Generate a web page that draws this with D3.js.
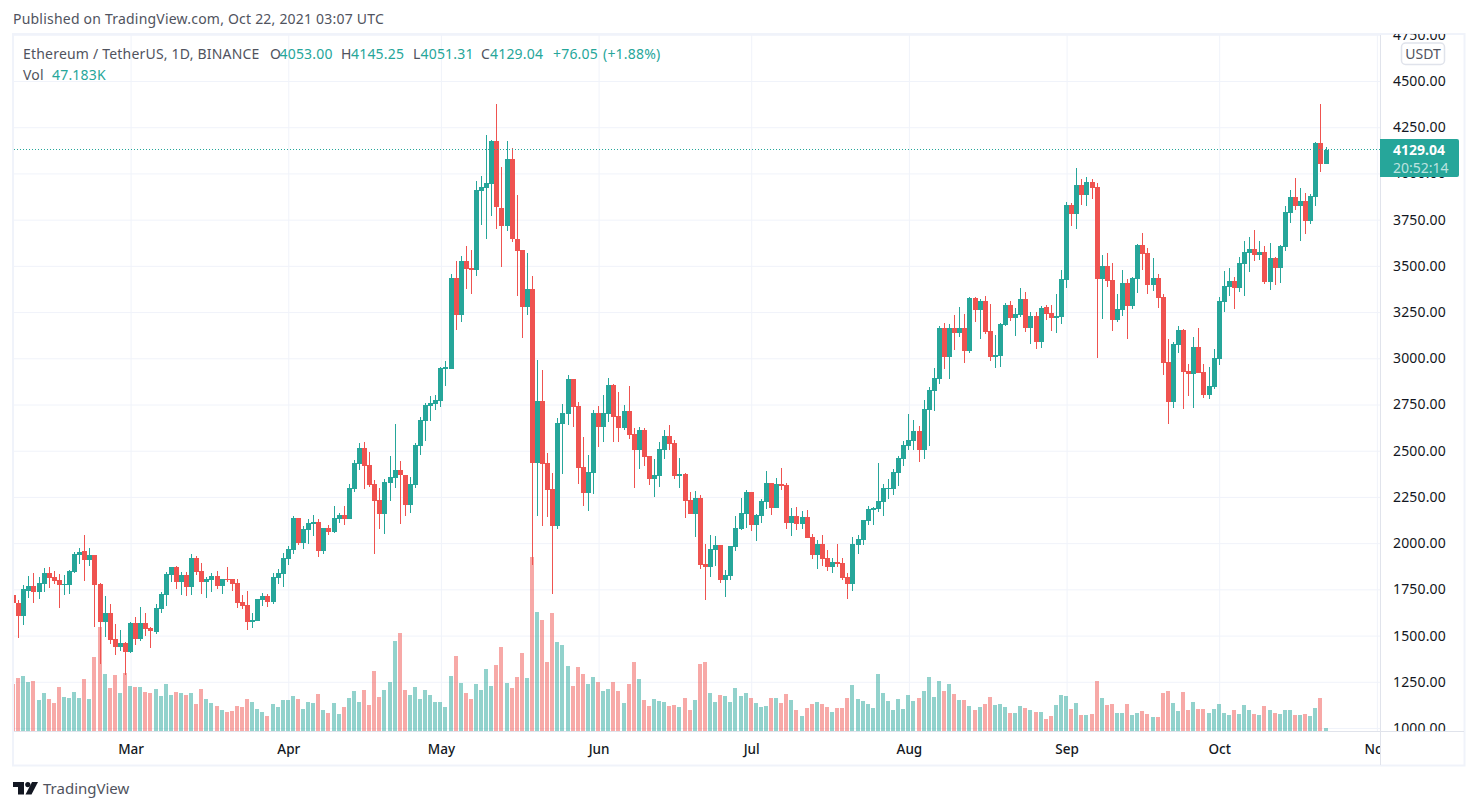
<!DOCTYPE html>
<html>
<head>
<meta charset="utf-8">
<script src="https://cdn.jsdelivr.net/npm/d3@7"></script>
<style>
  body { margin: 0; background: #fff; }
  text { font-family: "Noto Sans", sans-serif; }
</style>
</head>
<body>
<div id="chart"></div>
<script>
// daily ETH/USDT candles, Feb 6 - Oct 22 2021
var opens = [
  1719,1676,1607,1741,1768,1735,1779,1838,1817,1800,
  1775,1775,1844,1937,1957,1909,1936,1779,1573,1622,
  1481,1438,1460,1411,1568,1481,1568,1541,1519,1644,
  1719,1829,1871,1790,1827,1762,1919,1849,1790,1800,
  1822,1768,1806,1806,1784,1681,1665,1573,1579,1692,
  1714,1681,1811,1833,1914,1963,2136,2000,2071,2103,
  2114,1957,2082,2060,2130,2152,2130,2292,2428,2514,
  2422,2320,2233,2157,2325,2352,2395,2368,2206,2314,
  2525,2660,2741,2754,2768,2943,2941,3434,3233,3525,
  3488,3477,3904,3920,3942,4175,3812,3715,4077,3644,
  3585,3277,3374,2433,2768,2433,2293,2092,2644,2698,
  2887,2741,2411,2271,2379,2703,2628,2698,2855,2687,
  2622,2714,2590,2503,2611,2471,2346,2363,2503,2579,
  2541,2363,2373,2233,2157,2244,1887,1871,1962,1989,
  1800,1822,1979,2076,2157,2276,2098,2146,2222,2325,
  2190,2319,2314,2108,2146,2103,2141,2033,1935,1995,
  1919,1871,1898,1892,1816,1779,1990,2017,2120,2179,
  2184,2222,2293,2293,2379,2455,2525,2552,2606,2503,
  2720,2823,2887,3163,3006,3163,3136,3163,3039,3325,
  3261,3309,3147,3006,3012,3179,3288,3217,3234,3320,
  3163,3228,3088,3277,3244,3217,3223,3423,3828,3780,
  3937,3882,3953,3926,3428,3498,3423,3206,3260,3406,
  3282,3428,3612,3569,3396,3434,3331,2979,2763,3071,
  3152,2931,2914,3060,2925,2801,2844,2995,3304,3385,
  3417,3379,3509,3569,3590,3558,3574,3412,3542,3488,
  3601,3785,3872,3823,3850,3742,3872,4164,4053
];
var highs = [
  1741,1692,1773,1822,1838,1817,1865,1871,1849,1833,
  1827,1854,1952,1973,2044,1973,1936,1784,1714,1671,
  1562,1530,1465,1573,1600,1654,1622,1546,1671,1735,
  1844,1871,1876,1844,1844,1941,1930,1892,1817,1838,
  1849,1806,1871,1806,1806,1719,1741,1622,1698,1730,
  1725,1838,1860,1946,1984,2146,2136,2092,2130,2152,
  2130,2082,2098,2201,2163,2201,2320,2449,2541,2547,
  2493,2341,2298,2347,2471,2644,2444,2368,2357,2541,
  2682,2758,2795,2801,2952,2985,3455,3525,3553,3607,
  3585,3958,3985,4207,4180,4375,4034,4175,4137,3882,
  3585,3569,3444,2990,2936,2487,2379,2676,2752,2909,
  2887,2763,2574,2476,2720,2741,2801,2893,2860,2817,
  2747,2849,2622,2628,2622,2471,2455,2547,2611,2638,
  2557,2460,2379,2276,2281,2260,1995,2044,2038,1989,
  1854,1984,2146,2244,2287,2276,2157,2238,2390,2325,
  2352,2406,2325,2190,2195,2173,2179,2049,2017,2044,
  1962,1919,1995,1919,1838,2033,2044,2125,2201,2195,
  2433,2320,2347,2401,2471,2552,2698,2666,2633,2774,
  2844,2947,3174,3190,3185,3233,3277,3239,3331,3331,
  3320,3336,3293,3125,3190,3298,3309,3271,3380,3358,
  3250,3250,3282,3288,3288,3347,3477,3845,3839,4028,
  3969,3980,3969,3947,3558,3569,3515,3347,3477,3428,
  3439,3617,3677,3596,3542,3455,3347,3104,3087,3174,
  3158,2968,3114,3163,2968,2952,3050,3331,3471,3488,
  3439,3547,3634,3655,3693,3634,3607,3623,3547,3612,
  3823,3909,3974,3920,3893,3888,4169,4375,4145.25
];
var lows = [
  1638,1489,1557,1705,1678,1699,1735,1757,1779,1649,
  1719,1725,1841,1887,1795,1876,1546,1346,1492,1454,
  1395,1416,1287,1406,1449,1470,1497,1433,1508,1622,
  1660,1790,1752,1719,1714,1719,1827,1725,1703,1735,
  1752,1725,1790,1741,1649,1644,1530,1541,1579,1660,
  1654,1671,1779,1762,1881,1941,1990,1968,1995,2038,
  1925,1941,2044,2055,2109,2098,2130,2276,2395,2293,
  2303,1941,2076,2049,2228,2298,2103,2146,2163,2298,
  2476,2552,2660,2720,2736,2850,2941,3152,3196,3374,
  3347,3444,3720,3644,3769,3699,3493,3688,3628,3336,
  3109,3233,1881,2146,2092,2141,1725,2076,2374,2639,
  2628,2320,2200,2173,2265,2520,2547,2655,2547,2547,
  2611,2563,2298,2400,2417,2314,2249,2303,2455,2503,
  2346,2298,2135,2157,2033,1860,1692,1816,1876,1784,
  1708,1800,1957,2071,2081,2065,2011,2108,2184,2152,
  2190,2287,2076,2038,2071,2076,2027,1914,1860,1876,
  1849,1838,1871,1800,1697,1741,1941,1990,2098,2098,
  2168,2147,2238,2260,2309,2417,2503,2503,2439,2455,
  2525,2714,2860,2942,2887,3044,3115,2974,3028,3196,
  3104,3131,2985,2947,2952,3174,3201,3120,3223,3142,
  3077,3050,3055,3206,3147,3136,3185,3379,3715,3699,
  3828,3823,3861,3001,3212,3385,3147,3196,3228,3104,
  3266,3352,3477,3347,3363,3271,2909,2644,2730,3028,
  2725,2795,2730,2920,2785,2779,2833,2963,3250,3336,
  3266,3358,3336,3466,3525,3531,3401,3369,3396,3406,
  3580,3731,3801,3634,3671,3726,3823,4007,4051.31
];
var closes = [
  1676,1607,1752,1768,1735,1784,1838,1811,1795,1773,
  1779,1849,1941,1952,1909,1936,1773,1573,1622,1476,
  1438,1460,1411,1568,1481,1568,1535,1524,1649,1725,
  1833,1871,1790,1827,1762,1919,1844,1790,1806,1822,
  1768,1806,1802,1779,1676,1660,1573,1584,1698,1714,
  1681,1817,1838,1919,1968,2136,2000,2076,2109,2114,
  1957,2082,2060,2136,2152,2130,2298,2433,2514,2417,
  2314,2228,2157,2330,2357,2395,2368,2206,2320,2530,
  2666,2747,2758,2774,2947,2952,3434,3233,3525,3482,
  3477,3910,3926,3947,4175,3818,3715,4077,3644,3580,
  3277,3374,2433,2768,2428,2287,2092,2649,2703,2887,
  2736,2406,2271,2384,2703,2628,2703,2855,2682,2622,
  2714,2584,2503,2611,2465,2346,2368,2509,2579,2536,
  2363,2373,2227,2157,2244,1881,1871,1968,1989,1800,
  1827,1984,2081,2163,2276,2098,2152,2227,2325,2190,
  2319,2309,2108,2146,2103,2141,2027,1935,1995,1914,
  1871,1898,1887,1811,1779,1995,2022,2125,2184,2190,
  2228,2298,2296,2385,2460,2530,2558,2606,2503,2725,
  2828,2893,3163,3006,3163,3136,3163,3039,3325,3261,
  3309,3142,3006,3017,3185,3288,3217,3239,3320,3163,
  3228,3088,3271,3239,3217,3228,3428,3828,3780,3937,
  3882,3953,3920,3428,3498,3417,3206,3266,3406,3282,
  3434,3612,3563,3396,3434,3325,2974,2763,3077,3152,
  2925,2914,3060,2920,2801,2850,3001,3309,3390,3417,
  3379,3515,3574,3590,3558,3574,3412,3542,3488,3607,
  3790,3872,3823,3850,3742,3877,4164,4050,4129.04
];
// volume in thousands of ETH
var volumes = [
  846,954,990,882,900,558,684,576,504,792,
  612,594,702,594,936,576,1332,1872,1026,774,
  1008,684,1044,810,792,792,702,684,756,630,
  846,648,702,684,648,684,486,756,576,504,
  450,378,342,360,450,432,576,522,396,342,
  270,486,432,558,558,630,576,396,522,504,
  666,378,324,504,306,432,594,720,522,738,
  468,1080,612,738,882,1620,1764,738,648,792,
  576,738,648,522,522,432,990,1350,864,684,
  576,846,738,1116,810,1188,1512,864,774,972,
  1404,954,3132,2142,1998,1242,2124,1602,1548,1170,
  810,1152,1026,846,972,882,720,756,882,720,
  504,846,1242,936,558,450,576,540,522,450,
  468,432,594,378,558,1206,1242,684,522,648,
  630,522,774,630,684,594,504,432,450,594,
  594,504,666,558,378,270,414,486,522,486,
  432,342,414,414,594,828,576,540,486,414,
  1026,684,540,378,576,396,648,540,594,720,
  972,612,900,720,846,666,558,558,450,378,
  432,486,612,468,486,432,324,324,450,414,
  378,342,342,216,270,468,648,630,396,504,
  288,288,306,900,594,468,486,324,324,486,
  288,324,360,306,252,252,684,720,504,360,
  702,378,522,396,396,324,396,486,324,288,
  378,306,468,378,306,288,450,378,324,306,
  378,378,288,288,306,270,414,594,47.183
];
var priceTicks = [1000,1250,1500,1750,2000,2250,2500,2750,3000,3250,3500,3750,4000,4250,4500,4750];
var monthTicks = ['2021-03-01','2021-04-01','2021-05-01','2021-06-01','2021-07-01','2021-08-01','2021-09-01','2021-10-01','2021-11-01'];
var firstDay = new Date(Date.UTC(2021, 1, 6));
var lastPrice = 4129.04;

var legendParts = [
  ['Ethereum / TetherUS, 1D, BINANCE', 23, 'label'],
  ['O', 270, 'label'], ['4053.00', 279.5, 'up'],
  ['H', 341, 'label'], ['4145.25', 351, 'up'],
  ['L', 413, 'label'], ['4051.31', 420.5, 'up'],
  ['C', 481, 'label'], ['4129.04', 490, 'up'],
  ['+76.05', 553, 'up'], ['(+1.88%)', 603, 'up']
];

var up = '#26a69a', down = '#ef5350', grid = '#f0f3fa', line = '#e0e3eb', ink = '#131722', grey = '#50535e';
var width = 1478, height = 810;
var paneLeft = 14, paneRight = 1380, paneTop = 35, paneBottom = 731;

var svg = d3.select('#chart').append('svg').attr('width', width).attr('height', height).style('display', 'block');
var defs = svg.append('defs');
defs.append('clipPath').attr('id', 'pane').append('rect').attr('x', paneLeft - 1).attr('y', paneTop).attr('width', paneRight - paneLeft + 1).attr('height', paneBottom - paneTop);
defs.append('clipPath').attr('id', 'timeClip').append('rect').attr('x', paneLeft).attr('y', paneBottom).attr('width', paneRight - paneLeft).attr('height', 35);
defs.append('clipPath').attr('id', 'priceClip').append('rect').attr('x', paneRight).attr('y', paneTop - 1).attr('width', 84).attr('height', paneBottom - paneTop + 1);

var days = opens.map((d, i) => d3.utcDay.offset(firstDay, i));
var x = d3.scaleUtc().domain([firstDay, days[days.length - 1]]).range([13.6, 1326]);
var y = d3.scaleLinear().domain([1000, 4500]).range([728, 81]);
var yVol = d3.scaleLinear().domain([0, 3240]).range([paneBottom, paneBottom - 180]);
var months = monthTicks.map(d => new Date(d + 'T00:00:00Z'));
var candleColor = i => closes[i] >= opens[i] ? up : down;
var px = i => Math.floor(x(days[i]));

// grid
var pane = svg.append('g').attr('clip-path', 'url(#pane)');
var gridX = pane.append('g').attr('transform', `translate(0,${paneBottom})`)
  .call(d3.axisBottom(x).tickValues(months).tickSize(paneTop - paneBottom).tickFormat(''));
var gridY = pane.append('g').attr('transform', `translate(${paneLeft},0)`)
  .call(d3.axisRight(y).tickValues(priceTicks).tickSize(paneRight - paneLeft).tickFormat(''));
[gridX, gridY].forEach(g => {
  g.select('.domain').remove();
  g.selectAll('line').attr('stroke', grid);
});

// volume
pane.append('g').selectAll('rect').data(volumes).enter().append('rect')
  .attr('x', (d, i) => px(i) - 2)
  .attr('width', 4)
  .attr('y', d => Math.round(yVol(d)))
  .attr('height', d => paneBottom - Math.round(yVol(d)))
  .attr('fill', (d, i) => candleColor(i))
  .attr('fill-opacity', .5)
  .attr('shape-rendering', 'crispEdges');

// wicks and bodies
var candles = pane.append('g').attr('shape-rendering', 'crispEdges');
candles.selectAll('.wick').data(days).enter().append('rect').attr('class', 'wick')
  .attr('x', (d, i) => px(i))
  .attr('width', 1)
  .attr('y', (d, i) => Math.round(y(highs[i])))
  .attr('height', (d, i) => Math.round(y(lows[i])) - Math.round(y(highs[i])))
  .attr('fill', (d, i) => candleColor(i));
candles.selectAll('.body').data(days).enter().append('rect').attr('class', 'body')
  .attr('x', (d, i) => px(i) - 2)
  .attr('width', 5)
  .attr('y', (d, i) => Math.round(y(Math.max(opens[i], closes[i]))))
  .attr('height', (d, i) => Math.max(1, Math.round(y(Math.min(opens[i], closes[i]))) - Math.round(y(Math.max(opens[i], closes[i])))))
  .attr('fill', (d, i) => candleColor(i));

// last price line
svg.append('line')
  .attr('x1', paneLeft).attr('x2', paneRight)
  .attr('y1', Math.floor(y(lastPrice)) + .5).attr('y2', Math.floor(y(lastPrice)) + .5)
  .attr('stroke', up).attr('stroke-dasharray', '1 2');

// frame
svg.append('rect').attr('x', 13).attr('y', 34).attr('width', 1451.5).attr('height', 731.5)
  .attr('fill', 'none').attr('stroke', grid).attr('stroke-width', 2);
svg.append('line').attr('x1', 14).attr('x2', 1464).attr('y1', paneBottom + .5).attr('y2', paneBottom + .5).attr('stroke', line);
svg.append('line').attr('x1', paneRight + .5).attr('x2', paneRight + .5).attr('y1', 35).attr('y2', 765).attr('stroke', line);

// axes
var priceAxis = svg.append('g').attr('clip-path', 'url(#priceClip)').append('g').attr('transform', `translate(${paneRight},0)`)
  .call(d3.axisRight(y).tickValues(priceTicks).tickSize(0).tickPadding(13).tickFormat(d => d.toFixed(2)));
priceAxis.select('.domain').remove();
priceAxis.selectAll('text').attr('fill', ink).style('font-size', '14px').style('letter-spacing', '.15px').style('font-family', '"Noto Sans", sans-serif');

var timeAxis = svg.append('g').attr('clip-path', 'url(#timeClip)').append('g').attr('transform', `translate(0,${paneBottom})`)
  .call(d3.axisBottom(x).tickValues(months).tickSize(0).tickPadding(13).tickFormat(d3.utcFormat('%b')));
timeAxis.select('.domain').remove();
timeAxis.selectAll('text').attr('fill', ink).style('font-size', '13.5px').style('font-weight', 500).style('font-family', '"Noto Sans", sans-serif');

// last price badge
var badge = svg.append('g');
badge.append('path').attr('d', 'M1380 139H1457a2 2 0 0 1 2 2V175a2 2 0 0 1 -2 2H1380Z').attr('fill', up);
badge.append('text').attr('x', 1393).attr('y', 155).attr('fill', '#fff').style('font-size', '14px').style('font-weight', 700).text(lastPrice.toFixed(2));
badge.append('text').attr('x', 1393).attr('y', 173).attr('fill', '#fff').attr('fill-opacity', .7).style('font-size', '14px').text('20:52:14');

// currency box
svg.append('rect').attr('x', 1401.5).attr('y', 43).attr('width', 43).attr('height', 21.5).attr('rx', 4)
  .attr('fill', '#fff').attr('stroke', line).attr('stroke-width', 1.5);
svg.append('text').attr('x', 1423).attr('y', 59).attr('text-anchor', 'middle').attr('fill', grey).style('font-size', '14px').text('USDT');

// header
svg.append('text').attr('x', 13).attr('y', 24).attr('fill', grey).style('font-size', '14px').style('letter-spacing', '.21px').text('Published on TradingView.com, Oct 22, 2021 03:07 UTC');

// legend
var legend = svg.append('g').style('font-size', '14px').style('letter-spacing', '.2px');
legend.selectAll('text').data(legendParts).enter().append('text')
  .attr('x', d => d[1]).attr('y', 59)
  .attr('fill', d => d[2] == 'up' ? up : grey)
  .text(d => d[0]);
legend.append('text').attr('x', 23).attr('y', 80).attr('fill', grey).text('Vol');
legend.append('text').attr('x', 52).attr('y', 80).attr('fill', up).text(d3.format('.3f')(volumes[volumes.length - 1]) + 'K');

// logo
var logo = svg.append('g').attr('transform', 'translate(13,782)').attr('fill', ink);
logo.append('path').attr('d', 'M0 0H11V12.5H5V5H0Z');
logo.append('circle').attr('cx', 14.8).attr('cy', 2.6).attr('r', 2.6);
logo.append('path').attr('d', 'M19 0H25L18.5 12.5H12.5Z');
svg.append('text').attr('x', 43).attr('y', 794).attr('fill', grey).style('font-size', '15px').text('TradingView');
</script>
</body>
</html>
